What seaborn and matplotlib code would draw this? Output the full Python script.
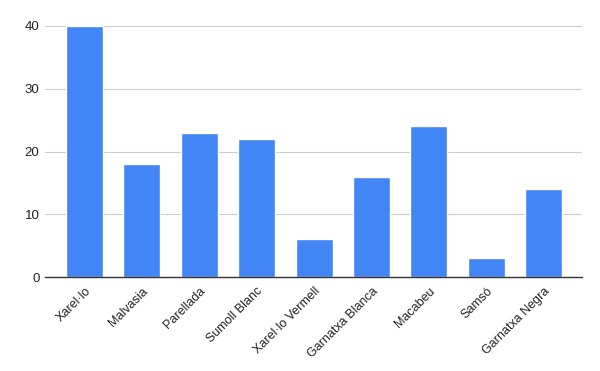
import matplotlib
matplotlib.use("Agg")
import matplotlib.pyplot as plt
import seaborn as sns
import pandas as pd

categories = ["Xarel·lo", "Malvasia", "Parellada", "Sumoll Blanc", "Xarel·lo Vermell",
              "Garnatxa Blanca", "Macabeu", "Samsó", "Garnatxa Negra"]
values = [40, 18, 23, 22, 6, 16, 24, 3, 14]
yticks = [0, 10, 20, 30, 40]

sns.set_theme(style="white")
plt.rcParams['font.family'] = ['Liberation Sans', 'DejaVu Sans']

df = pd.DataFrame({"cat": categories, "val": values})
fig = plt.figure(figsize=(6, 3.71), dpi=100)
ax = fig.add_axes([45/600, (371-277)/371, (582-45)/600, (277-26)/371])
sns.barplot(data=df, x="cat", y="val", color="#4285F4", width=0.645, ax=ax, saturation=1)
ax.set_ylim(0, 40)
ax.set_xlim(-0.69, len(categories) - 1 + 0.67)
ax.set_yticks(yticks)
ax.set_yticklabels([str(t) for t in yticks], fontsize=9.5, color="#222222")
ax.grid(axis="y", color="#cccccc", linewidth=0.8)
ax.set_axisbelow(True)
for s in ["top", "right", "left"]:
    ax.spines[s].set_visible(False)
ax.spines["bottom"].set_color("#333333")
ax.spines["bottom"].set_linewidth(1)
ax.tick_params(axis="y", length=0, pad=4)
ax.tick_params(axis="x", length=0, pad=6)
ax.set_xticks(range(len(categories)))
ax.set_xticklabels(categories, rotation=45, ha="right", rotation_mode="anchor", fontsize=9, color="#222222")
ax.set_xlabel("")
ax.set_ylabel("")
fig.savefig("out.png", dpi=100)
